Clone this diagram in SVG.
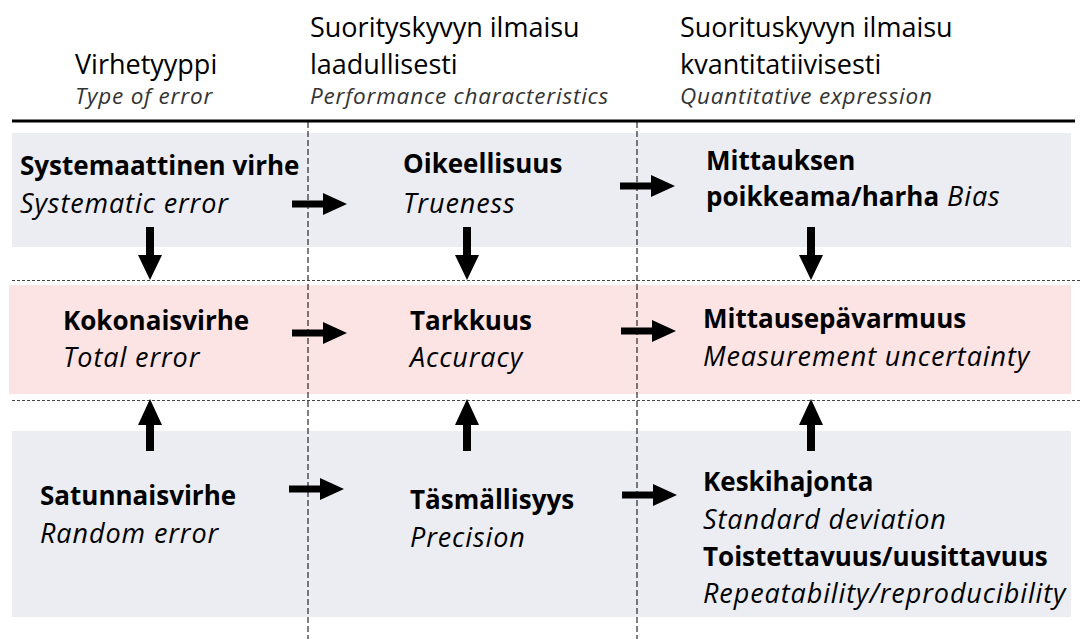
<svg xmlns="http://www.w3.org/2000/svg" width="1080" height="639" viewBox="0 0 1080 639">
<style>
text{font-family:"Open Sans","Noto Sans","Liberation Sans",sans-serif;fill:#000}
.h{font-size:27px}
.hi{font-size:22.5px;font-style:italic;fill:#333;letter-spacing:0.8px}
.b{font-size:26px;font-weight:bold}
.i{font-size:27px;font-style:italic;letter-spacing:0.9px}
.gray{fill:#ECEDF2}
.pink{fill:#FCE4E4}
.vd{stroke:#000;stroke-width:1;stroke-dasharray:6 3;fill:none}
.hd{stroke:#444;stroke-width:1;stroke-dasharray:3 2;fill:none}
.arr{fill:#000}
</style>
<defs>
<path id="ar" d="M0,-3.5 H31 V-11 L55,0 L31,11 V3.5 H0 Z"/>
<path id="ad" d="M-4,0 H4 V28 H12 L0,53 L-12,28 H-4 Z"/>
<path id="au" d="M-4,0 H4 V-26 H12 L0,-52 L-12,-26 H-4 Z"/>
</defs>
<rect width="1080" height="639" fill="#fff"/>
<g id="bands">
<rect class="gray" x="12" y="133" width="1059" height="114"/>
<rect class="pink" x="9" y="285" width="1062" height="109"/>
<rect class="gray" x="12" y="431" width="1059" height="186"/>
</g>
<g id="header">
<text class="h" x="75" y="74">Virhetyyppi</text>
<text class="hi" x="75" y="104">Type of error</text>
<text class="h" x="310" y="37">Suorityskyvyn ilmaisu</text>
<text class="h" x="310" y="74">laadullisesti</text>
<text class="hi" x="310" y="104">Performance characteristics</text>
<text class="h" x="680" y="37">Suorituskyvyn ilmaisu</text>
<text class="h" x="680" y="74">kvantitatiivisesti</text>
<text class="hi" x="680" y="104">Quantitative expression</text>
<line x1="12" y1="121" x2="1075" y2="121" stroke="#000" stroke-width="3"/>
</g>
<g id="gridlines">
<line class="vd" x1="308" y1="122" x2="308" y2="639"/>
<line class="vd" x1="637" y1="122" x2="637" y2="639"/>
<line class="hd" x1="12" y1="280.5" x2="1080" y2="280.5"/>
<line class="hd" x1="12" y1="400.5" x2="1080" y2="400.5"/>
</g>
<g id="n-systematic">
<text class="b" x="20" y="175">Systemaattinen virhe</text>
<text class="i" x="20" y="213">Systematic error</text>
</g>
<g id="n-trueness">
<text class="b" x="403" y="173">Oikeellisuus</text>
<text class="i" x="403" y="213">Trueness</text>
</g>
<g id="n-bias">
<text class="b" x="706" y="170">Mittauksen</text>
<text x="706" y="206"><tspan class="b">poikkeama/harha</tspan><tspan class="i"> Bias</tspan></text>
</g>
<g id="n-total">
<text class="b" x="63" y="330">Kokonaisvirhe</text>
<text class="i" x="63" y="367">Total error</text>
</g>
<g id="n-accuracy">
<text class="b" x="410" y="330">Tarkkuus</text>
<text class="i" x="410" y="367">Accuracy</text>
</g>
<g id="n-uncertainty">
<text class="b" x="703" y="328">Mittausepävarmuus</text>
<text class="i" x="703" y="366">Measurement uncertainty</text>
</g>
<g id="n-random">
<text class="b" x="40" y="505">Satunnaisvirhe</text>
<text class="i" x="40" y="543">Random error</text>
</g>
<g id="n-precision">
<text class="b" x="410" y="509">Täsmällisyys</text>
<text class="i" x="410" y="547">Precision</text>
</g>
<g id="n-sd">
<text class="b" x="703" y="491">Keskihajonta</text>
<text class="i" x="703" y="529">Standard deviation</text>
<text class="b" x="703" y="566">Toistettavuus/uusittavuus</text>
<text class="i" x="703" y="603">Repeatability/reproducibility</text>
</g>
<g id="connectors" class="arr">
<use href="#ar" x="292" y="204"/>
<use href="#ar" x="620" y="186"/>
<use href="#ar" x="292" y="333"/>
<use href="#ar" x="621" y="331"/>
<use href="#ar" x="289" y="489"/>
<use href="#ar" x="622" y="495"/>
<use href="#ad" x="150" y="227"/>
<use href="#ad" x="467" y="227"/>
<use href="#ad" x="811" y="227"/>
<use href="#au" x="150" y="451"/>
<use href="#au" x="467" y="451"/>
<use href="#au" x="811" y="451"/>
</g>
</svg>
